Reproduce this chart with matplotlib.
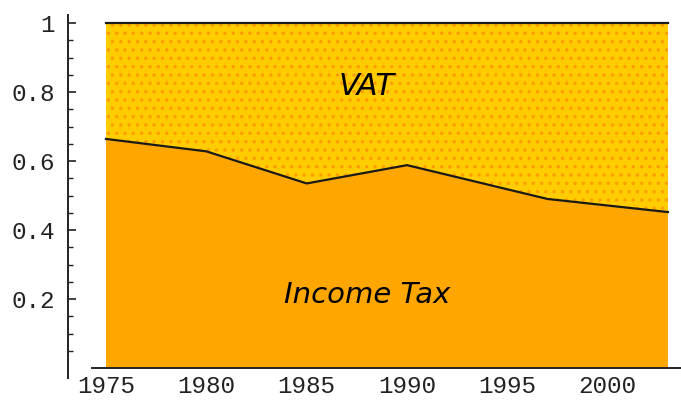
import matplotlib
matplotlib.use("Agg")
import matplotlib.pyplot as plt
import numpy as np

# Data
years = [1975, 1980, 1985, 1990, 1997, 2003]
income_tax_share = [0.664, 0.628, 0.535, 0.588, 0.490, 0.452]
total_share = [1.0, 1.0, 1.0, 1.0, 1.0, 1.0]
xtick_years = [1975, 1980, 1985, 1990, 1995, 2000]
ytick_vals = [0.2, 0.4, 0.6, 0.8, 1.0]
ytick_labels = ["0.2", "0.4", "0.6", "0.8", "1"]
yminor_vals = [0.05, 0.1, 0.15, 0.25, 0.3, 0.35, 0.45, 0.5, 0.55, 0.65, 0.7, 0.75, 0.85, 0.9, 0.95]

plt.rcParams['hatch.linewidth'] = 1.3

fig = plt.figure(figsize=(6.81, 4.03), dpi=100)
ax = fig.add_axes([0, 0, 1, 1])
ax.set_xlim(1969.72, 2003.65)
ax.set_ylim(-0.1014, 1.0667)

# Areas
plt.rcParams['hatch.color'] = '#FF9E00'
ax.fill_between(years, income_tax_share, total_share, facecolor='#FFCC00',
                edgecolor='#FF9E00', hatch='..', linewidth=0, zorder=1)
ax.fill_between(years, 0, income_tax_share, facecolor='#FFA600',
                linewidth=0, zorder=1)
ax.plot(years, income_tax_share, color='#1a1a1a', lw=1.6, zorder=3)
ax.plot(years, total_share, color='#1a1a1a', lw=1.6, zorder=3)

# Labels inside
ax.text(1988.0, 0.817, "VAT", fontsize=22, style='italic', ha='center', va='center',
        family='DejaVu Sans', color='black', zorder=4)
ax.text(1988.0, 0.212, "Income Tax", fontsize=21, style='italic', ha='center', va='center',
        family='DejaVu Sans', color='black', zorder=4)

# Spines
for s in ['top', 'right']:
    ax.spines[s].set_visible(False)
ax.spines['left'].set_position(('data', 1973.1))
ax.spines['left'].set_bounds(-0.029, 1.023)
ax.spines['bottom'].set_position(('data', 0))
ax.spines['bottom'].set_bounds(1974.3, 2003.65)
for s in ['left', 'bottom']:
    ax.spines[s].set_linewidth(1.4)
    ax.spines[s].set_color('#222222')
    ax.spines[s].set_zorder(2)

ax.set_yticks(ytick_vals)
ax.set_yticklabels(ytick_labels)
ax.set_yticks(yminor_vals, minor=True)
ax.tick_params(axis='y', which='major', direction='in', length=6, width=1.2,
               pad=9.5, labelsize=17.5, color='#222222')
ax.tick_params(axis='y', which='minor', direction='in', length=3.5, width=1.0, color='#222222')
ax.set_xticks(xtick_years)
ax.set_xticklabels([str(y) for y in xtick_years])
ax.tick_params(axis='x', which='both', length=0, pad=5, labelsize=17.5)
for lab in ax.get_xticklabels() + ax.get_yticklabels():
    lab.set_family('Liberation Mono')
    lab.set_color('#222222')

fig.savefig("out.png", dpi=100)
